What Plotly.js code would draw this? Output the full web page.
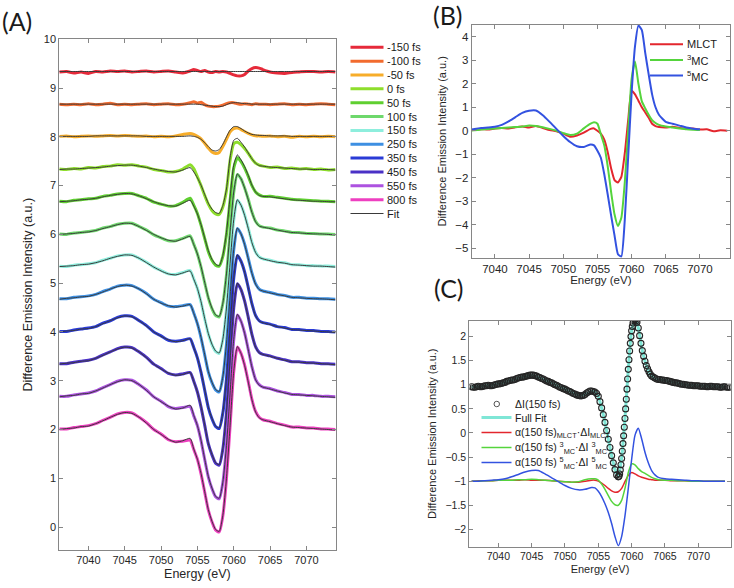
<!DOCTYPE html>
<html><head><meta charset="utf-8">
<script src="https://cdn.plot.ly/plotly-3.0.1.min.js"></script>
<style>html,body{margin:0;padding:0;background:#fff}#chart{width:734px;height:588px}</style>
</head><body><div id="chart"></div>
<script>
// ---------- Panel A: energy grid, delays, colours ----------
const energyA = [7036,7037,7038,7039,7040,7041,7042,7043,7044,7045,7046,7047,7048,7049,7050,7051,7052,7053,7054,
 7054.5,7055,7055.5,7056,7056.5,7057,7057.5,7058,7058.5,7059,7059.5,7060,7060.5,7061,7061.5,7062,7062.5,7063,7063.5,7064,
 7065,7066,7067,7068,7069,7070,7071,7072,7073,7074];
const delaysA = ['-150 fs','-100 fs','-50 fs','0 fs','50 fs','100 fs','150 fs','250 fs','350 fs','450 fs','550 fs','800 fs'];
const colorsA = ['#e62a3a','#f26b2e','#f7ad2a','#8ede2c','#5fcf30','#6ed86c','#8eeedd','#3d8fe2','#2a3bd6','#4a31c6','#ad52e0','#ee3fc0'];

const dataM150 = [9.33,9.34,9.31,9.33,9.30,9.34,9.33,9.35,9.34,9.35,9.33,9.34,9.35,9.33,9.34,9.35,9.33,9.31,9.35,
 9.38,9.36,9.34,9.36,9.33,9.32,9.34,9.33,9.34,9.33,9.30,9.27,9.25,9.25,9.28,9.35,9.40,9.42,9.41,9.38,
 9.33,9.31,9.30,9.32,9.33,9.34,9.34,9.33,9.34,9.33];
const fitM150 = [9.34,9.34,9.34,9.34,9.34,9.34,9.34,9.34,9.34,9.34,9.34,9.34,9.34,9.34,9.34,9.34,9.34,9.34,9.34,
 9.34,9.34,9.34,9.34,9.34,9.34,9.34,9.34,9.34,9.34,9.34,9.34,9.34,9.34,9.34,9.34,9.34,9.34,9.34,9.34,
 9.34,9.34,9.34,9.34,9.34,9.34,9.34,9.34,9.34,9.34];
const dataM100 = [8.67,8.66,8.67,8.66,8.68,8.66,8.67,8.69,8.66,8.67,8.66,8.67,8.68,8.66,8.67,8.68,8.66,8.67,8.70,
 8.72,8.69,8.71,8.66,8.63,8.62,8.62,8.63,8.65,8.68,8.70,8.70,8.68,8.67,8.68,8.67,8.66,8.68,8.67,8.67,
 8.66,8.67,8.68,8.66,8.67,8.66,8.67,8.68,8.67,8.66];
const fitM100 = [8.67,8.67,8.67,8.67,8.67,8.67,8.67,8.67,8.67,8.67,8.67,8.67,8.67,8.67,8.67,8.67,8.67,8.67,8.67,
 8.67,8.67,8.66,8.65,8.64,8.63,8.62,8.62,8.63,8.66,8.69,8.70,8.70,8.69,8.68,8.68,8.67,8.67,8.67,8.67,
 8.67,8.67,8.67,8.67,8.67,8.67,8.67,8.67,8.67,8.67];
const dataM50 = [8.01,8.02,8.00,8.01,8.02,8.01,8.02,8.03,8.02,8.03,8.02,8.01,8.02,8.00,8.01,8.00,8.02,8.05,8.07,
 8.05,8.01,7.96,7.87,7.77,7.69,7.66,7.68,7.80,7.95,8.10,8.17,8.18,8.15,8.11,8.07,8.04,8.02,8.02,8.01,
 8.02,8.00,8.01,7.99,8.01,8.00,8.01,8.00,8.01,8.00];
const fitM50 = [8.01,8.01,8.01,8.01,8.01,8.02,8.02,8.02,8.02,8.02,8.02,8.02,8.01,8.01,8.01,8.01,8.01,8.01,8.02,
 8.01,7.99,7.95,7.88,7.80,7.73,7.71,7.74,7.85,8.00,8.14,8.21,8.21,8.17,8.12,8.08,8.05,8.04,8.03,8.03,
 8.02,8.02,8.02,8.01,8.01,8.01,8.01,8.01,8.01,8.01];
const data0 = [7.34,7.33,7.35,7.34,7.37,7.36,7.39,7.40,7.43,7.42,7.43,7.40,7.38,7.33,7.31,7.28,7.29,7.34,7.43,
 7.35,7.18,7.00,6.80,6.62,6.49,6.42,6.41,6.56,6.90,7.52,7.86,7.89,7.84,7.76,7.66,7.55,7.46,7.42,7.40,
 7.37,7.38,7.35,7.36,7.34,7.35,7.33,7.34,7.32,7.33];
const fit0 = [7.33,7.34,7.34,7.35,7.36,7.37,7.38,7.40,7.41,7.42,7.42,7.40,7.37,7.34,7.31,7.29,7.28,7.32,7.37,
 7.28,7.16,7.01,6.82,6.64,6.52,6.45,6.43,6.59,6.93,7.58,7.93,7.97,7.89,7.79,7.67,7.55,7.46,7.41,7.40,
 7.38,7.37,7.36,7.35,7.34,7.34,7.33,7.33,7.33,7.32];
const data50 = [6.68,6.67,6.70,6.71,6.73,6.74,6.78,6.80,6.83,6.84,6.84,6.79,6.74,6.66,6.62,6.58,6.59,6.66,6.74,
 6.60,6.43,6.19,5.92,5.65,5.47,5.37,5.35,5.55,6.00,6.70,7.36,7.57,7.49,7.36,7.19,7.00,6.87,6.81,6.78,
 6.78,6.76,6.74,6.72,6.71,6.70,6.69,6.68,6.68,6.67];
const fit50 = [6.67,6.68,6.69,6.71,6.72,6.74,6.77,6.80,6.82,6.84,6.83,6.79,6.73,6.67,6.62,6.59,6.58,6.64,6.70,
 6.58,6.42,6.20,5.93,5.67,5.49,5.39,5.36,5.57,6.04,6.77,7.42,7.63,7.53,7.39,7.21,7.01,6.87,6.80,6.78,
 6.77,6.75,6.73,6.71,6.70,6.69,6.68,6.68,6.67,6.67];
const data100 = [6.01,6.00,6.03,6.04,6.06,6.08,6.13,6.16,6.21,6.23,6.23,6.16,6.09,5.99,5.93,5.87,5.87,5.92,5.97,
 5.80,5.60,5.33,5.01,4.70,4.48,4.34,4.31,4.58,5.17,6.04,6.86,7.23,7.14,6.95,6.72,6.46,6.27,6.18,6.15,
 6.13,6.09,6.07,6.04,6.04,6.02,6.02,6.01,6.01,6.00];
const fit100 = [6.00,6.01,6.02,6.04,6.05,6.08,6.12,6.16,6.20,6.23,6.22,6.16,6.08,6.00,5.93,5.88,5.86,5.91,5.96,
 5.79,5.60,5.34,5.02,4.71,4.49,4.35,4.32,4.59,5.19,6.06,6.87,7.24,7.14,6.95,6.71,6.45,6.26,6.17,6.15,
 6.12,6.09,6.06,6.04,6.03,6.02,6.01,6.01,6.00,5.99];
const data150 = [5.35,5.34,5.37,5.38,5.40,5.42,5.47,5.51,5.56,5.58,5.58,5.51,5.43,5.33,5.26,5.19,5.18,5.22,5.26,
 5.09,4.89,4.61,4.27,3.96,3.74,3.60,3.56,3.84,4.47,5.40,6.29,6.70,6.60,6.40,6.13,5.84,5.64,5.54,5.50,
 5.47,5.43,5.42,5.38,5.38,5.36,5.36,5.35,5.35,5.34];
const fit150 = [5.34,5.35,5.36,5.38,5.39,5.42,5.46,5.51,5.55,5.58,5.57,5.51,5.42,5.33,5.25,5.19,5.17,5.21,5.25,
 5.08,4.89,4.62,4.28,3.97,3.75,3.61,3.57,3.85,4.49,5.41,6.30,6.71,6.60,6.39,6.12,5.83,5.63,5.53,5.50,
 5.46,5.43,5.41,5.38,5.37,5.36,5.35,5.35,5.34,5.33];
const data250 = [4.68,4.68,4.71,4.72,4.74,4.77,4.83,4.88,4.94,4.96,4.95,4.88,4.79,4.67,4.60,4.53,4.52,4.54,4.56,
 4.39,4.17,3.88,3.53,3.18,2.96,2.81,2.77,3.07,3.75,4.73,5.68,6.12,6.01,5.80,5.51,5.21,4.99,4.88,4.84,
 4.81,4.77,4.75,4.71,4.71,4.69,4.69,4.68,4.68,4.67];
const fit250 = [4.67,4.69,4.70,4.72,4.73,4.77,4.82,4.88,4.93,4.96,4.94,4.88,4.78,4.67,4.59,4.54,4.51,4.53,4.56,
 4.38,4.17,3.89,3.54,3.19,2.97,2.82,2.78,3.08,3.76,4.74,5.69,6.13,6.01,5.79,5.50,5.20,4.98,4.87,4.84,
 4.80,4.77,4.74,4.71,4.70,4.69,4.68,4.68,4.67,4.66];
const data350 = [4.01,4.01,4.04,4.06,4.08,4.11,4.18,4.23,4.30,4.33,4.32,4.23,4.13,4.00,3.92,3.83,3.81,3.83,3.86,
 3.68,3.47,3.17,2.81,2.45,2.22,2.06,2.02,2.34,3.04,4.07,5.10,5.57,5.45,5.23,4.91,4.58,4.34,4.23,4.19,
 4.16,4.11,4.09,4.05,4.05,4.03,4.03,4.01,4.01,4.00];
const fit350 = [4.00,4.02,4.03,4.06,4.07,4.11,4.17,4.23,4.29,4.33,4.31,4.23,4.12,4.00,3.91,3.84,3.80,3.82,3.86,
 3.67,3.47,3.18,2.82,2.46,2.23,2.07,2.03,2.35,3.05,4.08,5.11,5.58,5.45,5.22,4.90,4.57,4.33,4.22,4.19,
 4.15,4.11,4.08,4.05,4.04,4.03,4.02,4.01,4.00,3.99];
const data450 = [3.35,3.35,3.38,3.40,3.42,3.46,3.53,3.59,3.66,3.69,3.68,3.59,3.48,3.34,3.25,3.15,3.12,3.14,3.17,
 2.99,2.77,2.46,2.09,1.71,1.48,1.31,1.27,1.60,2.34,3.41,4.49,4.99,4.87,4.63,4.30,3.95,3.70,3.58,3.54,
 3.51,3.46,3.43,3.39,3.39,3.37,3.37,3.35,3.35,3.34];
const fit450 = [3.34,3.36,3.37,3.40,3.41,3.46,3.52,3.59,3.65,3.69,3.67,3.59,3.47,3.34,3.24,3.16,3.11,3.13,3.17,
 2.98,2.77,2.47,2.10,1.72,1.49,1.32,1.28,1.61,2.35,3.42,4.50,5.00,4.87,4.62,4.29,3.94,3.69,3.57,3.54,
 3.50,3.46,3.42,3.39,3.38,3.37,3.36,3.35,3.34,3.33];
const data550 = [2.68,2.68,2.71,2.73,2.75,2.79,2.86,2.92,2.99,3.02,3.01,2.92,2.81,2.67,2.58,2.47,2.43,2.45,2.47,
 2.28,2.08,1.77,1.39,1.03,0.79,0.62,0.58,0.91,1.66,2.74,3.84,4.35,4.22,3.98,3.64,3.29,3.03,2.92,2.87,
 2.84,2.79,2.76,2.72,2.72,2.70,2.70,2.68,2.68,2.67];
const fit550 = [2.67,2.69,2.70,2.73,2.74,2.79,2.85,2.92,2.98,3.02,3.00,2.92,2.80,2.67,2.57,2.48,2.42,2.44,2.50,
 2.29,2.08,1.78,1.40,1.04,0.80,0.63,0.59,0.92,1.67,2.75,3.85,4.36,4.22,3.97,3.63,3.28,3.02,2.91,2.87,
 2.83,2.79,2.75,2.72,2.71,2.70,2.69,2.68,2.67,2.66];
const data800 = [2.01,2.01,2.04,2.06,2.08,2.12,2.19,2.25,2.32,2.35,2.34,2.25,2.14,2.00,1.91,1.79,1.75,1.76,1.78,
 1.59,1.39,1.09,0.72,0.35,0.11,-0.06,-0.10,0.23,0.99,2.08,3.18,3.69,3.56,3.32,2.98,2.62,2.37,2.25,2.20,
 2.17,2.12,2.09,2.05,2.05,2.03,2.03,2.01,2.01,2.00];
const fit800 = [2.00,2.02,2.03,2.06,2.07,2.12,2.18,2.25,2.31,2.35,2.33,2.25,2.13,2.00,1.90,1.80,1.74,1.77,1.82,
 1.60,1.39,1.10,0.73,0.36,0.12,-0.05,-0.09,0.24,1.00,2.09,3.19,3.70,3.56,3.31,2.97,2.61,2.36,2.24,2.20,
 2.16,2.12,2.08,2.05,2.04,2.03,2.02,2.01,2.00,1.99];

// ---------- Panel B: species spectra (same energy grid) ----------
const speciesB = ['MLCT','<sup>3</sup>MC','<sup>5</sup>MC'];
const colorsB = ['#e3262d','#55d43c','#3352e0'];
const mlctB = [0.00,0.04,0.07,0.05,0.10,0.12,0.10,0.15,0.18,0.14,0.20,0.12,0.03,-0.02,-0.12,-0.25,-0.20,-0.08,0.08,
 0.10,0.00,-0.12,-0.38,-0.90,-1.60,-2.10,-2.20,-1.96,-0.96,0.45,1.70,1.55,1.28,1.00,0.78,0.55,0.30,0.20,0.16,
 0.14,0.17,0.12,0.09,0.10,0.05,0.06,-0.02,0.02,0.00];
const mc3B = [0.00,0.02,0.05,0.08,0.10,0.12,0.14,0.16,0.18,0.22,0.20,0.15,0.08,0.00,-0.10,-0.18,-0.12,0.10,0.30,
 0.36,0.30,-0.15,-0.62,-1.50,-2.60,-3.55,-4.05,-3.70,-2.20,0.00,2.20,2.95,2.00,1.25,0.95,0.68,0.45,0.33,0.25,
 0.18,0.14,0.10,0.06,0.04,0.03,null,null,null,null];
const mc5B = [0.03,0.08,0.12,0.14,0.17,0.25,0.40,0.58,0.76,0.85,0.86,0.66,0.38,0.08,-0.22,-0.48,-0.66,-0.69,-0.58,
 -0.62,-0.85,-1.15,-1.85,-2.70,-3.60,-4.45,-5.25,-5.35,-3.80,-1.10,1.60,3.60,4.48,4.28,3.30,2.40,1.55,1.00,0.68,
 0.38,0.30,0.22,0.14,0.09,0.06,null,null,null,null];

// ---------- Panel C: 150 fs spectrum and its decomposition ----------
const energyC = [7036,7036.25,7036.5,7036.75,7037,7037.25,7037.5,7037.75,7038,7038.25,7038.5,7038.75,7039,7039.25,7039.5,7039.75,
 7040,7040.25,7040.5,7040.75,7041,7041.25,7041.5,7041.75,7042,7042.25,7042.5,7042.75,7043,7043.25,7043.5,7043.75,
 7044,7044.25,7044.5,7044.75,7045,7045.25,7045.5,7045.75,7046,7046.25,7046.5,7046.75,7047,7047.25,7047.5,7047.75,
 7048,7048.25,7048.5,7048.75,7049,7049.25,7049.5,7049.75,7050,7050.25,7050.5,7050.75,7051,7051.25,7051.5,7051.75,
 7052,7052.25,7052.5,7052.75,7053,7053.25,7053.5,7053.75,7054,7054.25,7054.5,
 7054.75,7055,7055.25,7055.5,7055.75,7056,7056.25,7056.5,7056.75,7057,7057.25,7057.5,7057.75,7058,
 7058.1,7058.2,7058.3,7058.4,7058.5,7058.6,7058.7,7058.8,7058.9,7059,7059.1,7059.2,7059.3,7059.4,7059.5,7059.6,7059.7,7059.8,7059.9,
 7060,7060.1,7060.2,7060.3,7060.4,7060.5,7060.6,7060.7,7060.8,
 7061,7061.2,7061.4,7061.6,7061.8,7062,7062.2,7062.4,7062.6,7062.8,7063,
 7063.25,7063.5,7063.75,7064,7064.25,7064.5,7064.75,7065,7065.25,7065.5,7065.75,7066,7066.25,7066.5,7066.75,
 7067,7067.25,7067.5,7067.75,7068,7068.25,7068.5,7068.75,7069,7069.25,7069.5,7069.75,7070,7070.25,7070.5,7070.75,
 7071,7071.25,7071.5,7071.75,7072,7072.25,7072.5,7072.75,7073,7073.25,7073.5,7073.75,7074,7074.25,7074.5,7074.75];
const dI150 = [0.96,0.95,0.95,0.96,0.97,0.96,0.96,0.97,0.98,0.98,0.99,0.98,0.98,0.99,1.00,1.01,
 1.02,1.02,1.03,1.04,1.05,1.07,1.08,1.09,1.10,1.10,1.11,1.13,1.14,1.15,1.16,1.16,
 1.17,1.18,1.19,1.20,1.20,1.20,1.19,1.18,1.16,1.15,1.13,1.12,1.10,1.08,1.07,1.05,
 1.04,1.02,1.00,0.99,0.97,0.95,0.94,0.92,0.91,0.89,0.87,0.86,0.84,0.82,0.81,0.79,
 0.78,0.77,0.77,0.78,0.80,0.83,0.85,0.87,0.87,0.86,0.85,
 0.82,0.76,0.65,0.52,0.38,0.22,0.05,-0.13,-0.30,-0.47,-0.62,-0.76,-0.87,-0.91,
 -0.90,-0.85,-0.77,-0.66,-0.53,-0.38,-0.22,-0.06,0.12,0.30,0.50,0.70,0.91,1.12,1.32,1.52,1.70,1.86,2.00,
 2.12,2.21,2.28,2.32,2.35,2.36,2.36,2.33,2.30,
 2.18,2.02,1.86,1.71,1.59,1.49,1.40,1.33,1.27,1.22,1.18,
 1.16,1.14,1.12,1.11,1.11,1.10,1.10,1.09,1.09,1.08,1.07,1.06,1.05,1.04,1.04,
 1.03,1.02,1.01,1.01,1.00,1.00,0.99,0.99,0.99,0.98,0.98,0.98,0.98,0.97,0.97,0.97,
 0.97,0.96,0.96,0.97,0.97,0.96,0.96,0.96,0.96,0.95,0.95,0.96,0.96,0.95,0.95,0.95];
const fullFitC = [0.96,0.96,0.98,0.99,1.02,1.05,1.10,1.14,1.17,1.20,1.16,1.10,1.04,0.97,0.91,0.84,0.79,0.80,0.86,
 0.85,0.76,0.52,0.22,-0.13,-0.47,-0.76,-0.90,-0.52,0.30,1.32,2.12,2.36,2.18,1.78,1.49,1.30,1.18,1.13,1.11,
 1.09,1.06,1.03,1.00,0.99,0.98,0.97,0.97,0.96,0.96];
const mlctC = [-1.00,-0.99,-0.99,-0.99,-0.98,-0.98,-0.98,-0.98,-0.97,-0.98,-0.98,-0.98,-0.99,-1.00,-1.01,-1.02,-1.02,-1.00,-0.98,
 -0.98,-1.00,-1.04,-1.09,-1.15,-1.20,-1.23,-1.22,-1.15,-1.01,-0.88,-0.82,-0.85,-0.89,-0.92,-0.94,-0.96,-0.97,-0.98,-0.98,
 -0.98,-0.99,-0.99,-0.99,-1.00,-1.00,-1.00,-1.00,-1.00,-1.00];
const mc3C = [-1.00,-1.00,-0.99,-0.99,-0.98,-0.98,-0.98,-0.97,-0.97,-0.96,-0.97,-0.98,-0.99,-1.00,-1.01,-1.02,-1.01,-0.97,-0.95,
 -0.95,-0.98,-1.06,-1.17,-1.30,-1.42,-1.49,-1.50,-1.40,-1.15,-0.82,-0.64,-0.66,-0.74,-0.80,-0.84,-0.88,-0.92,-0.95,-0.97,
 -0.98,-0.98,-0.99,-0.99,-1.00,-1.00,-1.00,-1.00,-1.00,-1.00];
const mc5C = [-1.00,-1.00,-0.99,-0.98,-0.97,-0.95,-0.91,-0.86,-0.81,-0.78,-0.78,-0.85,-0.93,-1.01,-1.09,-1.15,-1.18,-1.17,-1.13,
 -1.14,-1.21,-1.32,-1.47,-1.65,-1.88,-2.15,-2.34,-2.15,-1.72,-1.15,-0.55,-0.05,0.10,-0.12,-0.40,-0.62,-0.78,-0.87,-0.92,
 -0.95,-0.96,-0.97,-0.98,-0.99,-0.99,-1.00,-1.00,-1.00,-1.00];
const labelsC = ['ΔI(150 fs)','Full Fit','α(150 fs)<sub>MLCT</sub>·ΔI<sub>MLCT</sub>',
 'α(150 fs) <sup>3</sup><sub>MC</sub>·ΔI <sup>3</sup><sub>MC</sub>','α(150 fs) <sup>5</sup><sub>MC</sub>·ΔI <sup>5</sup><sub>MC</sub>'];
const colorsC = ['#262626','#7fe6d6','#e3262d','#55d43c','#3352e0'];
const panelLetters = ['(A)','(B)','(C)'];

// ---------- build traces ----------
const dataA = [dataM150,dataM100,dataM50,data0,data50,data100,data150,data250,data350,data450,data550,data800];
const fitA = [fitM150,fitM100,fitM50,fit0,fit50,fit100,fit150,fit250,fit350,fit450,fit550,fit800];
const fitColor = '#3a3a3a';
const traces = [];
dataA.forEach((y,i)=>traces.push({x:energyA,y:y,type:'scatter',mode:'lines',name:delaysA[i],
  line:{color:colorsA[i],width:3,shape:'spline',smoothing:0.6},xaxis:'x',yaxis:'y',showlegend:false,hoverinfo:'skip'}));
fitA.forEach((y,i)=>traces.push({x:energyA,y:y,type:'scatter',mode:'lines',name:'Fit',
  line:{color:fitColor,width:1,shape:'spline',smoothing:0.6},xaxis:'x',yaxis:'y',showlegend:false,hoverinfo:'skip'}));
[mlctB,mc3B,mc5B].forEach((y,i)=>traces.push({x:energyA,y:y,type:'scatter',mode:'lines',name:speciesB[i],
  line:{color:colorsB[i],width:2,shape:'spline',smoothing:0.5},xaxis:'x2',yaxis:'y2',showlegend:false,hoverinfo:'skip'}));
traces.push({x:energyA,y:fullFitC,type:'scatter',mode:'lines',name:labelsC[1],line:{color:colorsC[1],width:3,shape:'spline',smoothing:0.6},
  xaxis:'x3',yaxis:'y3',showlegend:false,hoverinfo:'skip'});
traces.push({x:energyC,y:dI150,type:'scatter',mode:'markers',name:labelsC[0],
  marker:{symbol:'circle-open',size:6,color:colorsC[0],line:{width:1.1,color:colorsC[0]}},xaxis:'x3',yaxis:'y3',showlegend:false,hoverinfo:'skip'});
[mlctC,mc3C,mc5C].forEach((y,i)=>traces.push({x:energyA,y:y,type:'scatter',mode:'lines',name:labelsC[i+2],
  line:{color:colorsC[i+2],width:1.5,shape:'spline',smoothing:0.6},xaxis:'x3',yaxis:'y3',showlegend:false,hoverinfo:'skip'}));

// ---------- layout ----------
const W=734,H=588;
const FONT='Liberation Sans, Arial, sans-serif';
const axisColor='#868686';
function ax(extra){
  return Object.assign({showline:true,mirror:'ticks',linecolor:axisColor,linewidth:1,ticks:'inside',ticklen:4,
    tickcolor:axisColor,showgrid:false,zeroline:false,fixedrange:true,
    tickfont:{family:FONT,size:11,color:'#262626'}},extra);
}
const px=(x)=>x/W, py=(y)=>1-y/H;
const energyTicks=[7040,7045,7050,7055,7060,7065,7070];

const shapes=[], annotations=[];
function label(text,x,y,size,anchor,family){
  annotations.push({xref:'paper',yref:'paper',x:px(x),y:py(y),xanchor:anchor||'left',yanchor:'middle',
    showarrow:false,text:text,font:{family:family||FONT,size:size,color:'#1a1a1a'}});
}
// legend A
const legA = delaysA.concat(['Fit']), legAcol = colorsA.concat([fitColor]);
legA.forEach((t,i)=>{
  const y=47.3+i*13.85;
  shapes.push({type:'line',xref:'paper',yref:'paper',x0:px(350.5),x1:px(383.5),y0:py(y),y1:py(y),
    line:{color:legAcol[i],width:i<12?3:1.2}});
  label(t,385,y,11);
});
// legend B
speciesB.forEach((t,i)=>{
  const y=[44.3,60,75.5][i];
  shapes.push({type:'line',xref:'paper',yref:'paper',x0:px(650),x1:px(683),y0:py(y),y1:py(y),line:{color:colorsB[i],width:2}});
  label(t,685,y,11);
});
// legend C
labelsC.forEach((t,i)=>{
  const y=[404,417.5,432.5,447.5,462.5][i];
  if(i===0){
    shapes.push({type:'circle',xref:'paper',yref:'paper',x0:px(494),x1:px(499.5),y0:py(y+2.75),y1:py(y-2.75),
      line:{color:'#555',width:1}});
  } else {
    shapes.push({type:'line',xref:'paper',yref:'paper',x0:px(481.5),x1:px(511.5),y0:py(y),y1:py(y),
      line:{color:colorsC[i],width:i===1?3:1.5}});
  }
  label(t,512.5,y,10.5);
});
// panel letters
[[17,21],[448,15],[449,288]].forEach((p,i)=>label(panelLetters[i],p[0],p[1],25,'center','Lato, Open Sans, sans-serif'));

const yTitle='Difference Emission Intensity (a.u.)';
const layout={
  width:W,height:H,margin:{l:0,r:0,t:0,b:0},paper_bgcolor:'#fff',plot_bgcolor:'#fff',showlegend:false,
  font:{family:FONT,size:11,color:'#262626'},
  xaxis:ax({domain:[px(59.3),px(335.5)],range:[7036,7074],tickvals:energyTicks,anchor:'y',
    title:{text:'Energy (eV)',font:{size:12.5,family:FONT,color:'#262626'},standoff:4}}),
  yaxis:ax({domain:[py(550),py(39.3)],range:[-0.47,10],dtick:1,tick0:0,anchor:'x',
    title:{text:yTitle,font:{size:12.5,family:FONT,color:'#262626'},standoff:8}}),
  xaxis2:ax({domain:[px(471.7),px(730)],range:[7036.6,7074.4],tickvals:energyTicks,anchor:'y2',
    tickfont:{family:FONT,size:11.5,color:'#262626'},
    title:{text:'Energy (eV)',font:{size:11.5,family:FONT,color:'#262626'},standoff:2}}),
  yaxis2:ax({domain:[py(257.7),py(25)],range:[-5.4,4.5],dtick:1,tick0:0,anchor:'x2',
    tickfont:{family:FONT,size:11.5,color:'#262626'},
    title:{text:yTitle,font:{size:11,family:FONT,color:'#262626'},standoff:6}}),
  xaxis3:ax({domain:[px(469.3),px(730.7)],range:[7035.65,7074.86],tickvals:energyTicks,anchor:'y3',
    tickfont:{family:FONT,size:10.5,color:'#262626'},
    title:{text:'Energy (eV)',font:{size:11,family:FONT,color:'#262626'},standoff:4}}),
  yaxis3:ax({domain:[py(546.7),py(320.7)],range:[-2.36,2.33],dtick:0.5,tick0:0,anchor:'x3',
    tickfont:{family:FONT,size:10.5,color:'#262626'},
    title:{text:yTitle,font:{size:11,family:FONT,color:'#262626'},standoff:6}}),
  shapes:shapes,annotations:annotations
};
Plotly.newPlot('chart',traces,layout,{displayModeBar:false,staticPlot:true});
</script></body></html>
